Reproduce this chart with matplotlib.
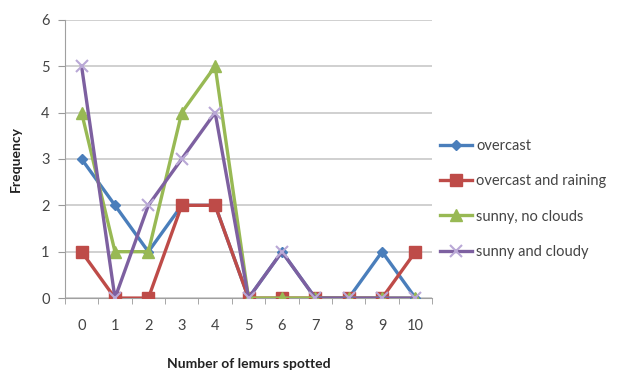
import matplotlib
matplotlib.use("Agg")
import matplotlib.pyplot as plt
import numpy as np

# nombre de lémuriens observés et fréquence par type de météo
lemurs = [0, 1, 2, 3, 4, 5, 6, 7, 8, 9, 10]
overcast = [3, 2, 1, 2, 2, 0, 1, 0, 0, 1, 0]
overcast_raining = [1, 0, 0, 2, 2, 0, 0, 0, 0, 0, 1]
sunny_no_clouds = [4, 1, 1, 4, 5, 0, 0, 0, 0, 0, 0]
sunny_cloudy = [5, 0, 2, 3, 4, 0, 1, 0, 0, 0, 0]
y_ticks = [0, 1, 2, 3, 4, 5, 6]

plt.rcParams['font.family'] = ['Lato', 'DejaVu Sans']

fig = plt.figure(figsize=(6.3, 3.74), dpi=100)
ax = fig.add_axes([0.103, 0.203, 0.583, 0.744])

ax.plot(lemurs, overcast, color='#4A7EBB', lw=2.4, marker='D', ms=5.5, label='overcast', zorder=3)
ax.plot(lemurs, overcast_raining, color='#BE4B48', lw=2.4, marker='s', ms=8.5, label='overcast and raining', zorder=4)
ax.plot(lemurs, sunny_no_clouds, color='#98B954', lw=2.4, marker='^', ms=9, label='sunny, no clouds', zorder=5)
ax.plot(lemurs, sunny_cloudy, color='#7D60A0', lw=2.4, marker='x', ms=8, mew=1.5,
        mec='#B9A8D6', label='sunny and cloudy', zorder=6)

ax.set_xlim(-0.5, 10.5)
ax.set_ylim(0, 6)
ax.set_xticks(lemurs)
ax.set_xticks(np.arange(-0.5, 11, 1), minor=True)
ax.set_yticks(y_ticks)
ax.tick_params(axis='x', which='major', length=0, pad=15, labelsize=10.5, labelcolor='#444444')
ax.tick_params(axis='x', which='minor', length=4, color='#999999', direction='out')
ax.tick_params(axis='y', length=5, color='#999999', pad=6, labelsize=10.5, labelcolor='#444444')

ax.grid(axis='y', color='#C8C8C8', lw=1.2)
ax.set_axisbelow(True)
for side in ['top', 'right']:
    ax.spines[side].set_visible(False)
for side in ['left', 'bottom']:
    ax.spines[side].set_color('#A0A0A0')

ax.set_ylabel('Frequency', fontsize=10, fontweight='bold', color='#222222', labelpad=14)
ax.set_xlabel('Number of lemurs spotted', fontsize=10, fontweight='bold', color='#222222', labelpad=18)

ax.legend(loc='center left', bbox_to_anchor=(0.985, 0.356), frameon=False, fontsize=10.5,
          handlelength=2.2, labelspacing=1.45, handletextpad=0.3, labelcolor='#444444')

fig.savefig('out.png', dpi=100)
